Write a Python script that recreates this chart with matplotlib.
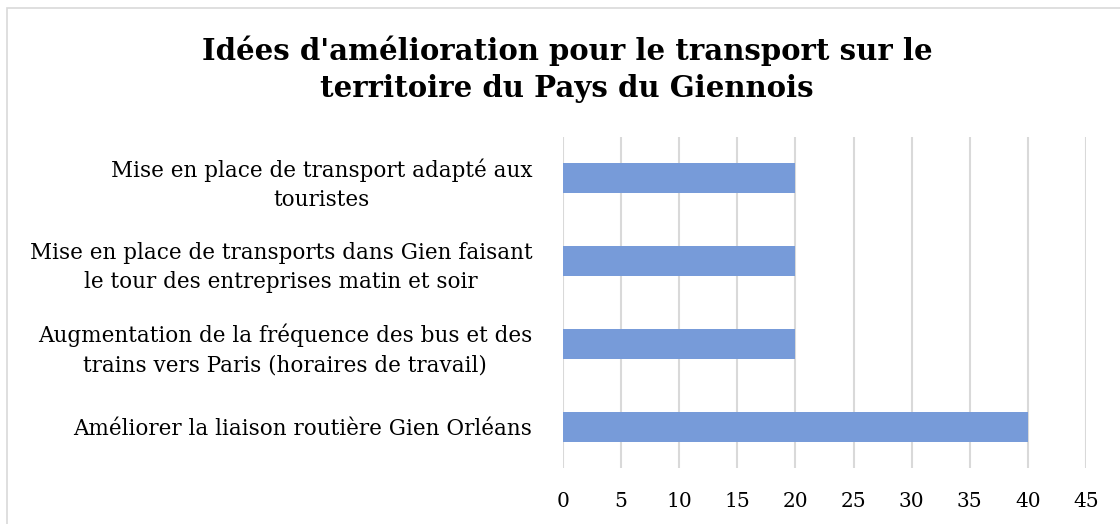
import matplotlib.pyplot as plt
from matplotlib.patches import Rectangle

# data (bottom to top, as drawn)
categories = [
    "Améliorer la liaison routière Gien Orléans",
    "Augmentation de la fréquence des bus et des\ntrains vers Paris (horaires de travail)",
    "Mise en place de transports dans Gien faisant\nle tour des entreprises matin et soir",
    "Mise en place de transport adapté aux\ntouristes",
]
values = [40, 20, 20, 20]
xticks = [0, 5, 10, 15, 20, 25, 30, 35, 40, 45]

title = "Idées d'amélioration pour le transport sur le\nterritoire du Pays du Giennois"

plt.rcParams['font.family'] = ['DejaVu Serif']

fig = plt.figure(figsize=(11.2, 5.24), dpi=100)
ax = fig.add_axes([563 / 1120, 1 - 468 / 524, (1086 - 563) / 1120, (468 - 137) / 524])

# chart border
fig.patches.append(Rectangle((7 / 1120, -0.1), 1.2, 1 - 8 / 524 + 0.1,
                             transform=fig.transFigure, fill=False,
                             edgecolor='#d9d9d9', linewidth=1.2))

ypos = list(range(len(categories)))
ax.barh(ypos, values, height=0.36, color='#779bd9', zorder=3)

ax.set_xlim(0, 45)
ax.set_ylim(-0.5, len(categories) - 0.5)
ax.set_xticks(xticks)
ax.set_yticks(ypos)
ax.set_yticklabels(categories, ha='right', multialignment='center',
                   fontsize=15.5, linespacing=1.45)
ax.tick_params(axis='y', length=0, pad=22)
ax.tick_params(axis='x', length=0, pad=17, labelsize=14.5)
ax.xaxis.grid(True, color='#d9d9d9', linewidth=1.5, zorder=0)
for s in ax.spines.values():
    s.set_visible(False)

fig.text(567 / 1120, 1 - 69 / 524, title, ha='center', va='center',
         fontsize=21, fontweight='bold', linespacing=1.35)

fig.savefig('out.png', dpi=100)
